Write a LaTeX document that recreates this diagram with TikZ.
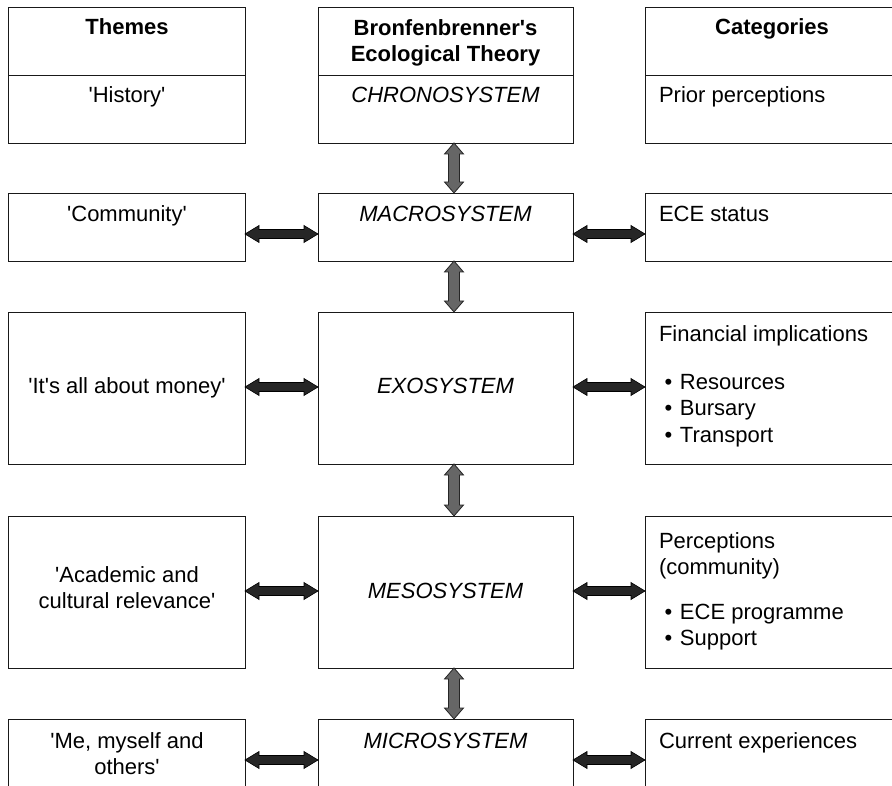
\documentclass[tikz,border=0pt]{standalone}
\usepackage{fontspec}
\setmainfont{Liberation Sans}
\usetikzlibrary{calc}
\newcommand\sq{\textquotesingle}
\newcommand\myharrow[2]{\path[harr] let \p1=(#1), \p2=(#2) in
  (\x1,\y1) -- (\x1+14pt,\y1+8.5pt) -- (\x1+14pt,\y1+4.5pt) -- (\x2-14pt,\y1+4.5pt) -- (\x2-14pt,\y1+8.5pt)
  -- (\x2,\y1) -- (\x2-14pt,\y1-8.5pt) -- (\x2-14pt,\y1-4.5pt) -- (\x1+14pt,\y1-4.5pt) -- (\x1+14pt,\y1-8.5pt) -- cycle;}
\newcommand\myvarrow[2]{\path[varr] let \p1=(#1), \p2=(#2) in
  (\x1,\y1) -- (\x1+9.5pt,\y1-11pt) -- (\x1+5.5pt,\y1-11pt) -- (\x1+5.5pt,\y2+11pt) -- (\x1+9.5pt,\y2+11pt)
  -- (\x1,\y2) -- (\x1-9.5pt,\y2+11pt) -- (\x1-5.5pt,\y2+11pt) -- (\x1-5.5pt,\y1-11pt) -- (\x1-9.5pt,\y1-11pt) -- cycle;}
\begin{document}
\begin{tikzpicture}[x=1pt,y=-1pt,
  box/.style={draw=black!90, line width=0.9pt, anchor=north west, inner sep=0pt, outer sep=0pt, fill=white},
  lcol/.style={box, minimum width=237pt},
  mcol/.style={box, minimum width=255pt},
  rcol/.style={box, minimum width=254pt},
  shortrow/.style={minimum height=68pt},
  tallrow/.style={minimum height=152pt},
  txt/.style={inner sep=0pt, outer sep=0pt, font=\fontsize{22}{26.5}\selectfont},
  ctr/.style={txt, anchor=base},
  lft/.style={txt, anchor=base west},
  harr/.style={draw=black, line width=0.6pt, fill=black!85, line join=miter},
  varr/.style={draw=black!85, line width=0.8pt, fill=black!60, line join=miter}]
\useasboundingbox (0,0) rectangle (892,786);
\clip (0,0) rectangle (892,786);
% boxes
\node[lcol, shortrow] (lh) at (8,7) {};
\node[lcol, shortrow] (lb) at (8,75) {};
\node[mcol, shortrow] (mh) at (318,7) {};
\node[mcol, shortrow] (mb) at (318,75) {};
\node[rcol, shortrow] (rh) at (645,7) {};
\node[rcol, shortrow] (rb) at (645,75) {};
\node[lcol, shortrow] (l2) at (8,193) {};
\node[mcol, shortrow] (m2) at (318,193) {};
\node[rcol, shortrow] (r2) at (645,193) {};
\node[lcol, tallrow] (l3) at (8,312) {};
\node[mcol, tallrow] (m3) at (318,312) {};
\node[rcol, tallrow] (r3) at (645,312) {};
\node[lcol, tallrow] (l4) at (8,516) {};
\node[mcol, tallrow] (m4) at (318,516) {};
\node[rcol, tallrow] (r4) at (645,516) {};
\node[lcol, tallrow] (l5) at (8,719) {};
\node[mcol, tallrow] (m5) at (318,719) {};
\node[rcol, tallrow] (r5) at (645,719) {};
% helper coordinates
\coordinate (ax) at (454,0);
\coordinate (hy2) at (0,234);
\coordinate (hy3) at (0,387);
\coordinate (hy4) at (0,591);
\coordinate (hy5) at (0,760);
% vertical arrows
\myvarrow{mb.south -| ax}{m2.north -| ax}
\myvarrow{m2.south -| ax}{m3.north -| ax}
\myvarrow{m3.south -| ax}{m4.north -| ax}
\myvarrow{m4.south -| ax}{m5.north -| ax}
% horizontal arrows
\myharrow{l2.east |- hy2}{m2.west |- hy2}
\myharrow{m2.east |- hy2}{r2.west |- hy2}
\myharrow{l3.east |- hy3}{m3.west |- hy3}
\myharrow{m3.east |- hy3}{r3.west |- hy3}
\myharrow{l4.east |- hy4}{m4.west |- hy4}
\myharrow{m4.east |- hy4}{r4.west |- hy4}
\myharrow{l5.east |- hy5}{m5.west |- hy5}
\myharrow{m5.east |- hy5}{r5.west |- hy5}
% texts
\node[ctr] (t1) at (127,35) {\bfseries Themes};
\node[ctr] (t2) at (445.5,36) {\bfseries Bronfenbrenner\sq s};
\node[ctr] (t3) at (445.5,62) {\bfseries Ecological Theory};
\node[ctr] (t4) at (772,35) {\bfseries Categories};
\node[ctr] (t5) at (127,103) {\sq History\sq};
\node[ctr] (t6) at (445.5,103) {\itshape CHRONOSYSTEM};
\node[lft] (t7) at (659,103) {Prior perceptions};
\node[ctr] (t8) at (127,222) {\sq Community\sq};
\node[ctr] (t9) at (445.5,222) {\itshape MACROSYSTEM};
\node[lft] (t10) at (659,222) {ECE status};
\node[ctr] (t11) at (127,394) {\sq It\sq s all about money\sq};
\node[ctr] (t12) at (445.5,394) {\itshape EXOSYSTEM};
\node[lft] (t13) at (659,342) {Financial implications};
\node[lft] (t14) at (664.5,389) {\makebox[15.5pt][l]{•}Resources};
\node[lft] (t15) at (664.5,415.5) {\makebox[15.5pt][l]{•}Bursary};
\node[lft] (t16) at (664.5,442) {\makebox[15.5pt][l]{•}Transport};
\node[ctr] (t17) at (127,582) {\sq Academic and};
\node[ctr] (t18) at (127,608.5) {cultural relevance\sq};
\node[ctr] (t19) at (445.5,598) {\itshape MESOSYSTEM};
\node[lft] (t20) at (659,548) {Perceptions};
\node[lft] (t21) at (659,574.5) {(community)};
\node[lft] (t22) at (664.5,619) {\makebox[15.5pt][l]{•}ECE programme};
\node[lft] (t23) at (664.5,645.5) {\makebox[15.5pt][l]{•}Support};
\node[ctr] (t24) at (127,748) {\sq Me, myself and};
\node[ctr] (t25) at (127,774.5) {others\sq};
\node[ctr] (t26) at (445.5,748) {\itshape MICROSYSTEM};
\node[lft] (t27) at (659,748) {Current experiences};
\end{tikzpicture}
\end{document}
